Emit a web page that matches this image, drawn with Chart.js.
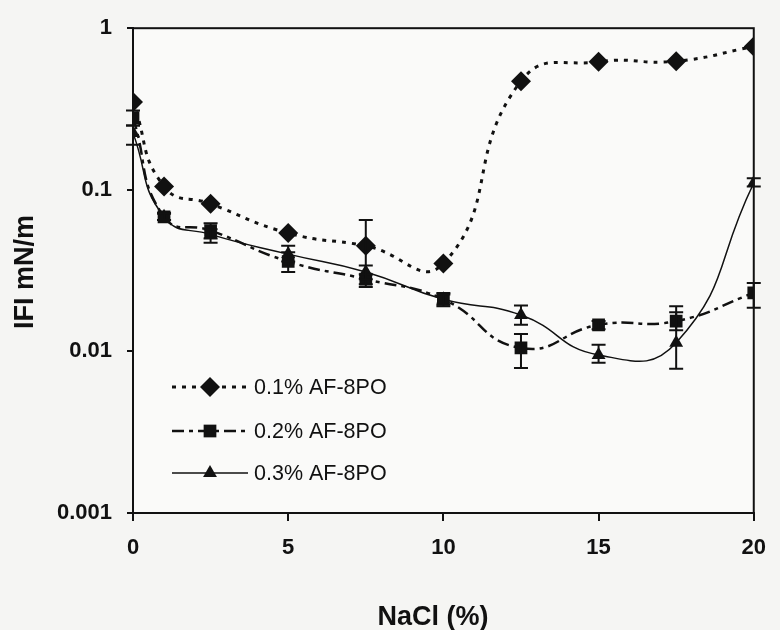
<!DOCTYPE html>
<html>
<head>
<meta charset="utf-8">
<script src="https://cdn.jsdelivr.net/npm/chart.js@4"></script>
<style>
  html, body { margin: 0; padding: 0; background: #f5f5f3; }
  canvas { display: block; }
</style>
</head>
<body>
<canvas id="ifiChart" width="780" height="630"></canvas>
<script>
// NaCl concentration (%)
const nacl = [0, 1, 2.5, 5, 7.5, 10, 12.5, 15, 17.5, 20];

// IFI (mN/m) for each surfactant concentration
const ifi01 = [0.35, 0.105, 0.082, 0.054, 0.045, 0.035, 0.47, 0.62, 0.625, 0.77];
const ifi02 = [0.28, 0.068, 0.056, 0.036, 0.028, 0.021, 0.0105, 0.0146, 0.0154, 0.023];
const ifi03 = [0.225, 0.068, 0.053, 0.040, 0.031, 0.021, 0.0168, 0.0095, 0.0113, 0.11];

// error bar limits (null = no bar)
const err01Low  = [null, null, null, null, 0.025, null, null, null, null, null];
const err01High = [null, null, null, null, 0.065, null, null, null, null, null];
const err02Low  = [0.25, 0.065, 0.047, 0.031, 0.026, 0.019, 0.0079, 0.0137, 0.0135, 0.0186];
const err02High = [0.31, 0.072, 0.062, 0.041, 0.030, 0.023, 0.0128, 0.0154, 0.019, 0.0265];
const err03Low  = [0.19, 0.065, 0.050, 0.036, 0.028, 0.0195, 0.0146, 0.0085, 0.0078, 0.105];
const err03High = [0.25, 0.071, 0.057, 0.045, 0.034, 0.0225, 0.0192, 0.011, 0.0175, 0.118];

const seriesLabels = ["0.1% AF-8PO", "0.2% AF-8PO", "0.3% AF-8PO"];
const xTicks = [0, 5, 10, 15, 20];
const yTicks = [0.001, 0.01, 0.1, 1];

const toPoints = vals => nacl.map((x, i) => ({ x: x, y: vals[i] }));

const canvasBg = {
  id: "canvasBg",
  beforeDraw(chart) {
    const { ctx, chartArea: a } = chart;
    ctx.save();
    ctx.fillStyle = "#f5f5f3";
    ctx.fillRect(0, 0, chart.width, chart.height);
    ctx.fillStyle = "#fafaf9";
    ctx.fillRect(a.left, a.top, a.right - a.left, a.bottom - a.top);
    ctx.restore();
  }
};

const errorBars = {
  id: "errorBars",
  afterDatasetsDraw(chart) {
    const { ctx, scales: { x, y } } = chart;
    ctx.save();
    ctx.strokeStyle = "#111";
    ctx.lineWidth = 2;
    chart.data.datasets.forEach(ds => {
      nacl.forEach((v, i) => {
        const lo = ds.errLow[i], hi = ds.errHigh[i];
        if (lo == null || hi == null) return;
        const px = x.getPixelForValue(v);
        const pLo = y.getPixelForValue(lo);
        const pHi = y.getPixelForValue(hi);
        ctx.beginPath();
        ctx.moveTo(px, pLo); ctx.lineTo(px, pHi);
        ctx.moveTo(px - 7, pLo); ctx.lineTo(px + 7, pLo);
        ctx.moveTo(px - 7, pHi); ctx.lineTo(px + 7, pHi);
        ctx.stroke();
      });
    });
    ctx.restore();
  }
};

// frame, legend and axis titles
const decorations = {
  id: "decorations",
  afterDraw(chart) {
    const { ctx, chartArea: a } = chart;
    ctx.save();
    ctx.strokeStyle = "#111";
    ctx.lineWidth = 2;
    ctx.strokeRect(a.left, a.top, a.right - a.left, a.bottom - a.top);

    const rows = [387, 431, 473];
    chart.data.datasets.forEach((ds, i) => {
      const yy = rows[i];
      ctx.save();
      ctx.strokeStyle = "#111";
      ctx.lineWidth = ds.borderWidth;
      ctx.setLineDash(ds.borderDash || []);
      ctx.beginPath();
      ctx.moveTo(172, yy); ctx.lineTo(248, yy);
      ctx.stroke();
      ctx.restore();
      ctx.fillStyle = "#111";
      Chart.helpers.drawPoint(ctx, { pointStyle: ds.pointStyle, radius: ds.pointRadius, rotation: 0, borderWidth: 0 }, 210, yy);
      ctx.fillStyle = "#111";
      ctx.font = "21.5px 'Liberation Sans', Arial, sans-serif";
      ctx.textBaseline = "middle";
      ctx.textAlign = "left";
      ctx.fillText(ds.label, 254, yy + 1);
    });

    ctx.fillStyle = "#111";
    ctx.font = "bold 27px 'Liberation Sans', Arial, sans-serif";
    ctx.textAlign = "center";
    ctx.textBaseline = "middle";
    ctx.fillText("NaCl (%)", 433, 618);

    ctx.translate(26, 272);
    ctx.rotate(-Math.PI / 2);
    ctx.font = "bold 27px 'Liberation Sans', Arial, sans-serif";
    ctx.fillText("IFI mN/m", 0, 0);
    ctx.restore();
  }
};

const tickFont = { family: "'Liberation Sans', Arial, sans-serif", size: 22, weight: "bold" };

new Chart(document.getElementById("ifiChart"), {
  type: "line",
  data: {
    datasets: [
      {
        label: seriesLabels[0],
        data: toPoints(ifi01),
        errLow: err01Low, errHigh: err01High,
        borderColor: "#111", backgroundColor: "#111",
        borderWidth: 3, borderDash: [4, 6],
        pointStyle: "rectRot", pointRadius: 10, pointBorderWidth: 0,
        tension: 0.5
      },
      {
        label: seriesLabels[1],
        data: toPoints(ifi02),
        errLow: err02Low, errHigh: err02High,
        borderColor: "#111", backgroundColor: "#111",
        borderWidth: 2.5, borderDash: [12, 5, 4, 5],
        pointStyle: "rect", pointRadius: 9, pointBorderWidth: 0,
        tension: 0.5
      },
      {
        label: seriesLabels[2],
        data: toPoints(ifi03),
        errLow: err03Low, errHigh: err03High,
        borderColor: "#111", backgroundColor: "#111",
        borderWidth: 1.5,
        pointStyle: "triangle", pointRadius: 8, pointBorderWidth: 0,
        tension: 0.5
      }
    ]
  },
  options: {
    responsive: false,
    animation: false,
    devicePixelRatio: 1,
    layout: { padding: { top: 28, right: 17, left: 0, bottom: 0 } },
    plugins: {
      legend: { display: false },
      tooltip: { enabled: false }
    },
    scales: {
      x: {
        type: "linear",
        min: 0, max: 20,
        afterFit: s => { s.height = 117; },
        afterBuildTicks: s => { s.ticks = xTicks.map(v => ({ value: v })); },
        border: { display: true, color: "#111", width: 2 },
        grid: { drawOnChartArea: false, color: "#111", tickLength: 8, lineWidth: 2 },
        ticks: { color: "#111", font: tickFont, padding: 14, maxRotation: 0 }
      },
      y: {
        type: "logarithmic",
        min: 0.001, max: 1,
        afterFit: s => { s.width = 133; },
        afterBuildTicks: s => { s.ticks = yTicks.map(v => ({ value: v })); },
        border: { display: true, color: "#111", width: 2 },
        grid: { drawOnChartArea: false, color: "#111", tickLength: 6, lineWidth: 2 },
        ticks: {
          color: "#111", font: tickFont, padding: 15,
          callback: v => String(v)
        }
      }
    }
  },
  plugins: [canvasBg, errorBars, decorations]
});
</script>
</body>
</html>
